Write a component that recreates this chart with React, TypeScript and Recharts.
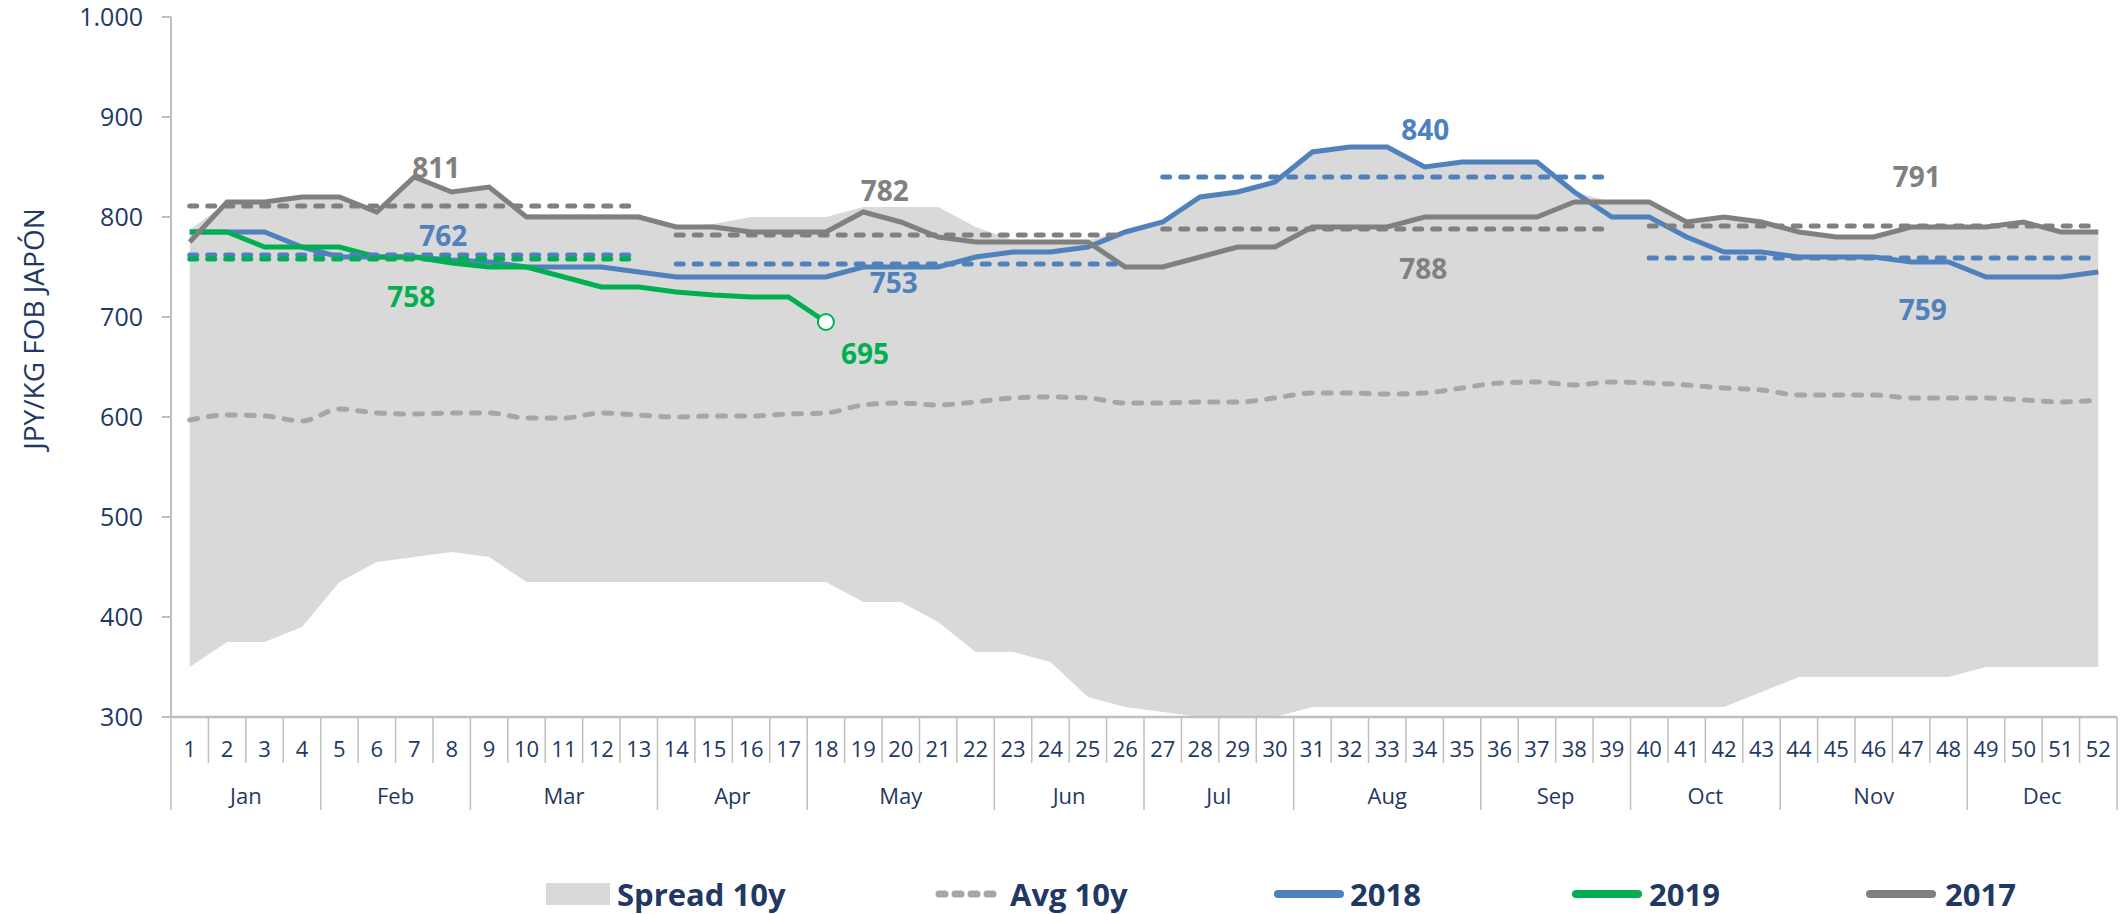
import React from 'react';
import { ComposedChart, Area, Line, XAxis, YAxis } from 'recharts';

// ---- data ----
const weeks = [1, 2, 3, 4, 5, 6, 7, 8, 9, 10, 11, 12, 13, 14, 15, 16, 17, 18, 19, 20, 21, 22, 23, 24, 25, 26,
    27, 28, 29, 30, 31, 32, 33, 34, 35, 36, 37, 38, 39, 40, 41, 42, 43, 44, 45, 46, 47, 48, 49, 50, 51, 52];
const months = ['Jan', 'Feb', 'Mar', 'Apr', 'May', 'Jun', 'Jul', 'Aug', 'Sep', 'Oct', 'Nov', 'Dec'];
const weeksPerMonth = [4, 4, 5, 4, 5, 4, 4, 5, 4, 4, 5, 4];
const yTicks = [300, 400, 500, 600, 700, 800, 900, 1000];
const yTickLabels = ['300', '400', '500', '600', '700', '800', '900', '1.000'];

const spreadLow = [350, 375, 375, 390, 435, 455, 460, 465, 460, 435, 435, 435, 435, 435, 435, 435, 435, 435,
    415, 415, 395, 365, 365, 355, 320, 310, 305, 300, 300, 300, 310, 310, 310, 310, 310, 310, 310, 310, 310,
    310, 310, 310, 325, 340, 340, 340, 340, 340, 350, 350, 350, 350];
const spreadHigh = [787, 815, 815, 820, 820, 805, 840, 825, 830, 803, 803, 803, 803, 790, 793, 800, 800, 800,
    810, 810, 810, 790, 777, 777, 777, 786, 795, 820, 825, 835, 865, 870, 870, 850, 855, 855, 855, 825, 815,
    815, 795, 800, 795, 785, 780, 780, 790, 790, 790, 795, 785, 785];
const avg10y = [597, 602, 601, 596, 608, 604, 603, 604, 604, 599, 599, 604, 602, 600, 601, 601, 603, 604,
    612, 614, 612, 615, 619, 620, 619, 614, 614, 615, 615, 619, 624, 624, 623, 624, 629, 634, 635, 632, 635,
    634, 632, 629, 627, 622, 622, 622, 619, 619, 619, 617, 615, 617];
const s2018 = [785, 785, 785, 770, 760, 760, 760, 757, 755, 750, 750, 750, 745, 740, 740, 740, 740, 740,
    750, 750, 750, 760, 765, 765, 770, 785, 795, 820, 825, 835, 865, 870, 870, 850, 855, 855, 855, 825, 800,
    800, 780, 765, 765, 760, 760, 760, 755, 755, 740, 740, 740, 745];
const s2019 = [785, 785, 770, 770, 770, 760, 760, 754, 750, 750, 740, 730, 730, 725, 722, 720, 720, 695];
const s2017 = [775, 815, 815, 820, 820, 805, 840, 825, 830, 800, 800, 800, 800, 790, 790, 785, 785, 785,
    805, 795, 780, 775, 775, 775, 775, 750, 750, 760, 770, 770, 790, 790, 790, 800, 800, 800, 800, 815, 815,
    815, 795, 800, 795, 785, 780, 780, 790, 790, 790, 795, 785, 785];

// quarter averages (dashed segments)
const quarterFirstWeek = [1, 14, 27, 40];
const quarterLastWeek = [13, 26, 39, 52];
const qAvg2017 = [811, 782, 788, 791];
const qAvg2018 = [762, 753, 840, 759];
const qAvg2019 = [758];

// ---- layout ----
const W = 2125;
const H = 914;
const MARGIN = { top: 17, right: 8, left: 0, bottom: 104 };
const Y_W = 171;
const X_H = 93;
const BW = (W - MARGIN.left - MARGIN.right - Y_W) / weeks.length;

const TEXT = '#1F3864';
const AXIS = '#BFBFBF';
const BLUE = '#4F81BD';
const GREEN = '#00B050';
const GREY = '#808080';
const AVG = '#A6A6A6';
const SPREAD = '#D9D9D9';
const FONT = '"Open Sans", "Noto Sans", sans-serif';

const monthStart: number[] = [];
const monthEnd: number[] = [];
weeksPerMonth.reduce((acc, n) => {
    monthStart.push(acc);
    monthEnd.push(acc + n - 1);
    return acc + n;
}, 0);

const data = weeks.map((w, i) => {
    const row: any = {
        week: w,
        spread: [spreadLow[i], spreadHigh[i]],
        avg: avg10y[i],
        y2018: s2018[i],
        y2019: i < s2019.length ? s2019[i] : null,
        y2017: s2017[i],
    };
    quarterFirstWeek.forEach((f, q) => {
        const inQ = w >= f && w <= quarterLastWeek[q];
        if (q < qAvg2017.length) row[`a2017_${q}`] = inQ ? qAvg2017[q] : null;
        if (q < qAvg2018.length) row[`a2018_${q}`] = inQ ? qAvg2018[q] : null;
        if (q < qAvg2019.length) row[`a2019_${q}`] = inQ ? qAvg2019[q] : null;
    });
    return row;
});

// label offsets for the period averages, relative to the mid week of each quarter
const noteOffsets: Record<string, [number, number]> = {
    a2017_0: [22, -39], a2018_0: [29, -20], a2019_0: [-3, 37],
    a2017_1: [-16, -45], a2018_1: [-7, 18],
    a2017_2: [36, 39], a2018_2: [38, -48],
    a2017_3: [43, -50], a2018_3: [49, 51],
};
const anchorWeek = [7, 20, 33, 46];

const noteLabel = (color: string, idx: number, dx: number, dy: number) => (p: any) => {
    if (p.index !== idx) return null;
    const x = p.x ?? p.viewBox?.x;
    const y = p.y ?? p.viewBox?.y;
    return (
        <text x={x + dx} y={y + dy} textAnchor="middle" dominantBaseline="central"
            fill={color} fontSize={28} fontWeight={700} fontFamily={FONT}>
            {p.value}
        </text>
    );
};

const WeekTick = (props: any) => {
    const { x, y, payload } = props;
    const i = weeks.indexOf(payload.value);
    const half = BW / 2;
    const m = monthStart.indexOf(i);
    const isEnd = monthEnd.includes(i);
    return (
        <g>
            {i === 0 && <line x1={x - half} x2={x - half} y1={y} y2={y + 93} stroke={AXIS} strokeWidth={1.5} />}
            <line x1={x + half} x2={x + half} y1={y} y2={y + (isEnd ? 93 : 46)} stroke={AXIS} strokeWidth={1.5} />
            <text x={x} y={y + 31} textAnchor="middle" dominantBaseline="central" fill={TEXT} fontSize={22}
                fontFamily={FONT}>{payload.value}</text>
            {m >= 0 &&
                <text x={x - half + weeksPerMonth[m] * BW / 2} y={y + 78} textAnchor="middle"
                    dominantBaseline="central" fill={TEXT} fontSize={22} fontFamily={FONT}>{months[m]}</text>}
        </g>
    );
};

const AxisTitle = (props: any) => {
    const vb = props.viewBox || { x: 0, y: MARGIN.top, height: H - MARGIN.top - MARGIN.bottom - X_H };
    const cx = vb.x + 33;
    const cy = vb.y + vb.height / 2 - 38;
    return (
        <text transform={`translate(${cx},${cy}) rotate(-90)`} textAnchor="middle" dominantBaseline="central"
            fill={TEXT} fontSize={28} fontFamily={FONT}>JPY/KG FOB JAPÓN</text>
    );
};

const LastDot = (props: any) => {
    const { cx, cy, index } = props;
    if (index !== s2019.length - 1 || cx == null || cy == null) return null;
    return <circle cx={cx} cy={cy} r={8} fill="#FFFFFF" stroke={GREEN} strokeWidth={2} />;
};

const legendItems = [
    { name: 'Spread 10y', kind: 'box', color: SPREAD, left: 546, textLeft: 617 },
    { name: 'Avg 10y', kind: 'dash', color: AVG, left: 935, textLeft: 1010 },
    { name: '2018', kind: 'line', color: BLUE, left: 1274, textLeft: 1350 },
    { name: '2019', kind: 'line', color: GREEN, left: 1572, textLeft: 1649 },
    { name: '2017', kind: 'line', color: GREY, left: 1866, textLeft: 1945 },
];

const ChartLegend = () => (
    <div style={{ position: 'absolute', left: 0, top: 874, width: W, height: 40 }}>
        {legendItems.map((it) => (
            <React.Fragment key={it.name}>
                <svg style={{ position: 'absolute', left: it.left, top: 0 }} width={72} height={40}>
                    {it.kind === 'box' && <rect x={0} y={9} width={64} height={22} fill={it.color} />}
                    {it.kind === 'dash' &&
                        <line x1={4} x2={64} y1={20} y2={20} stroke={it.color} strokeWidth={7}
                            strokeDasharray="6 10" strokeLinecap="round" />}
                    {it.kind === 'line' &&
                        <line x1={4} x2={66} y1={20} y2={20} stroke={it.color} strokeWidth={8}
                            strokeLinecap="round" />}
                </svg>
                <span style={{
                    position: 'absolute', left: it.textLeft, top: 0, height: 40, lineHeight: '40px',
                    fontFamily: FONT, fontWeight: 700, fontSize: 31, color: TEXT, whiteSpace: 'nowrap',
                }}>{it.name}</span>
            </React.Fragment>
        ))}
    </div>
);

const dashedSeries: Array<{ key: string; color: string; q: number }> = [];
qAvg2017.forEach((_, q) => dashedSeries.push({ key: `a2017_${q}`, color: GREY, q }));
qAvg2018.forEach((_, q) => dashedSeries.push({ key: `a2018_${q}`, color: BLUE, q }));
qAvg2019.forEach((_, q) => dashedSeries.push({ key: `a2019_${q}`, color: GREEN, q }));

const App: React.FC = () => {
    return (
        <div style={{ position: 'absolute', left: 0, top: 0, width: W, height: H, background: '#FFFFFF', fontFamily: FONT }}>
            <ComposedChart width={W} height={H} data={data} margin={MARGIN}>
                <XAxis dataKey="week" type="category" scale="band" interval={0} height={X_H}
                    tickLine={false} tickSize={0} tickMargin={0}
                    axisLine={{ stroke: AXIS, strokeWidth: 2.5 }} tick={<WeekTick />} />
                <YAxis type="number" domain={[300, 1000]} ticks={yTicks} interval={0} width={Y_W}
                    allowDataOverflow tickFormatter={(v: number) => yTickLabels[yTicks.indexOf(v)]}
                    axisLine={{ stroke: AXIS, strokeWidth: 2 }} tickLine={{ stroke: AXIS, strokeWidth: 2 }}
                    tickSize={9} tickMargin={19} tick={{ fill: TEXT, fontSize: 25, fontFamily: FONT }}
                    label={{ content: AxisTitle }} />
                <Area dataKey="spread" type="linear" fill={SPREAD} fillOpacity={1} stroke="none"
                    isAnimationActive={false} />
                <Line dataKey="avg" type="monotone" stroke={AVG} strokeWidth={5} strokeDasharray="8 11"
                    strokeLinecap="round" dot={false} isAnimationActive={false} />
                <Line dataKey="y2018" type="linear" stroke={BLUE} strokeWidth={5} dot={false}
                    isAnimationActive={false} />
                <Line dataKey="y2019" type="linear" stroke={GREEN} strokeWidth={5} dot={<LastDot />}
                    label={noteLabel(GREEN, s2019.length - 1, 39, 31)} isAnimationActive={false} />
                <Line dataKey="y2017" type="linear" stroke={GREY} strokeWidth={5} dot={false}
                    isAnimationActive={false} />
                {dashedSeries.map((s) => {
                    const off = noteOffsets[s.key] || [0, 0];
                    return (
                        <Line key={s.key} dataKey={s.key} type="linear" stroke={s.color} strokeWidth={5}
                            strokeDasharray="7 11" strokeLinecap="round" dot={false} connectNulls={false}
                            label={noteLabel(s.color, anchorWeek[s.q] - 1, off[0], off[1])}
                            isAnimationActive={false} />
                    );
                })}
            </ComposedChart>
            <ChartLegend />
        </div>
    );
};

export default App;
